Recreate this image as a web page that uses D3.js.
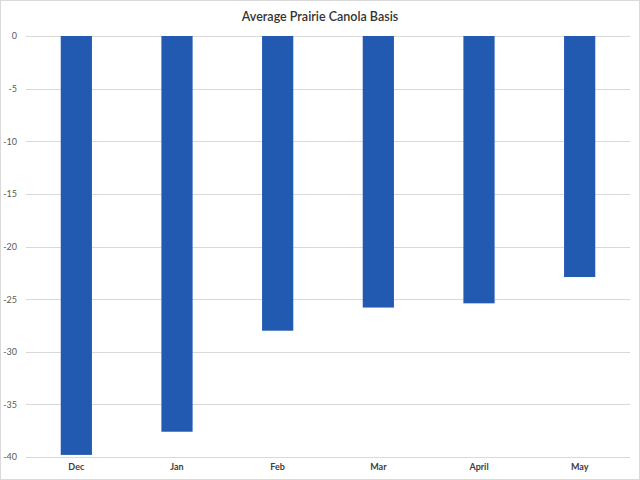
<!DOCTYPE html>
<html>
<head>
<meta charset="utf-8">
<script src="https://cdn.jsdelivr.net/npm/d3@7"></script>
<style>
html,body{margin:0;padding:0;background:#fff;}
svg{display:block;}
</style>
</head>
<body>
<svg id="chart" width="640" height="480"></svg>
<script>
const categories = ["Dec", "Jan", "Feb", "Mar", "April", "May"];
const basisValues = [-39.8, -37.6, -28.0, -25.8, -25.4, -22.9];
const yTicks = [0, -5, -10, -15, -20, -25, -30, -35, -40];
const titleText = "Average Prairie Canola Basis";

const W = 640, H = 480;
const margin = {top: 36, right: 10, bottom: 23, left: 26};
const svg = d3.select("#chart");
const font = "Lato, 'Open Sans', sans-serif";

svg.append("rect").attr("x", 0.5).attr("y", 0.5).attr("width", W - 1).attr("height", H - 1)
  .attr("fill", "#fff").attr("stroke", "#d9d9d9");

const x = d3.scaleBand().domain(categories).range([margin.left, W - margin.right]).paddingInner(0.69).paddingOuter(0.345);
const y = d3.scaleLinear().domain([0, -40]).range([margin.top, H - margin.bottom]);

// gridlines
svg.append("g").selectAll("line").data(yTicks).join("line")
  .attr("x1", margin.left).attr("x2", W - margin.right)
  .attr("y1", d => Math.round(y(d)) + 0.5).attr("y2", d => Math.round(y(d)) + 0.5)
  .attr("stroke", "#d9d9d9").attr("stroke-width", 1);

// y axis
const yAxis = d3.axisLeft(y).tickValues(yTicks).tickSize(0).tickPadding(9).tickFormat(d => String(d));
const gy = svg.append("g").attr("transform", `translate(${margin.left},0)`).call(yAxis);
gy.select(".domain").remove();
gy.selectAll("text").attr("fill", "#595959").style("font-family", font).style("font-size", "9px");

// bars
svg.append("g").selectAll("rect").data(categories).join("rect")
  .attr("x", d => x(d))
  .attr("width", x.bandwidth())
  .attr("y", y(0))
  .attr("height", (d, i) => y(basisValues[i]) - y(0))
  .attr("fill", "#2259b1");

// x axis
const xAxis = d3.axisBottom(x).tickSize(0).tickPadding(7);
const gx = svg.append("g").attr("transform", `translate(0,${y(-40)})`).call(xAxis);
gx.select(".domain").remove();
gx.selectAll("text").attr("fill", "#404040").style("font-family", font).style("font-size", "9px").style("font-weight", "bold");

// title
svg.append("text").attr("x", 320).attr("y", 21).attr("text-anchor", "middle")
  .style("font-family", font).style("font-size", "12.5px").style("font-weight", "600").attr("fill", "#333333")
  .text(titleText);
</script>
</body>
</html>
